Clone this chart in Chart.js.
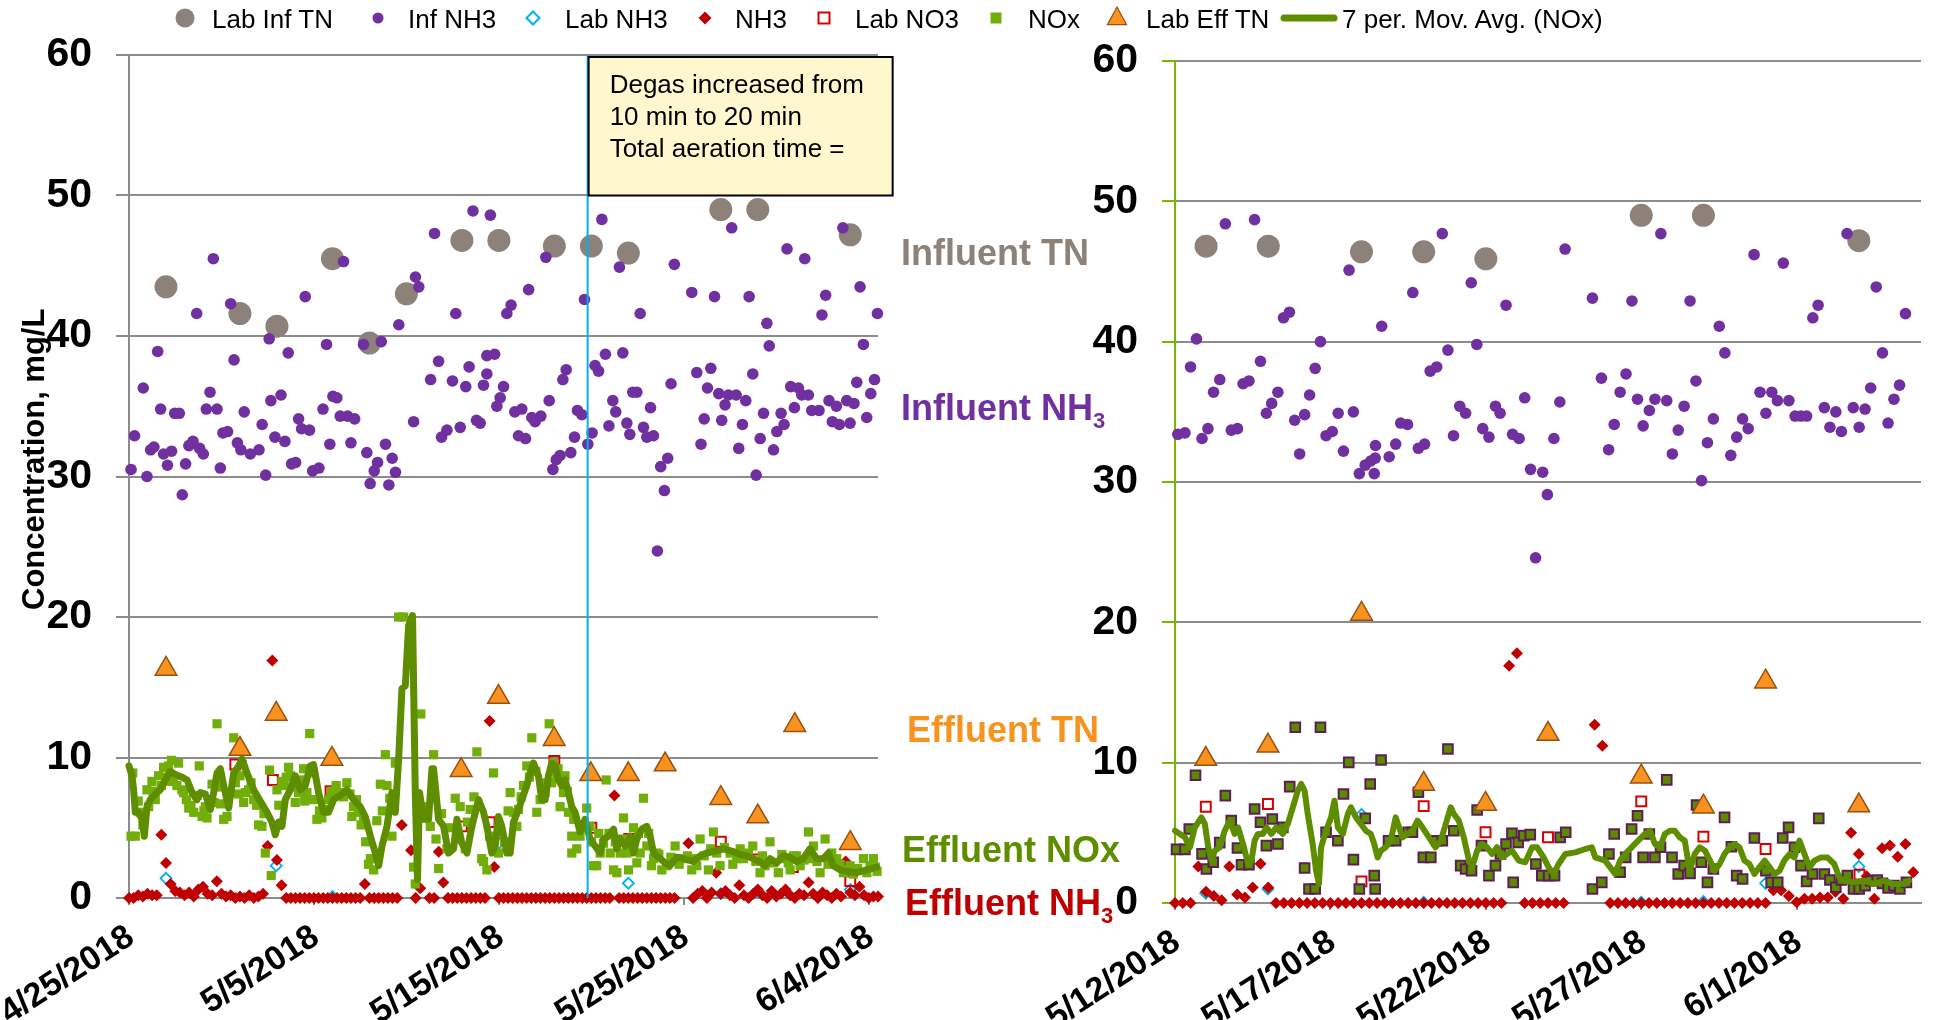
<!DOCTYPE html>
<html>
<head>
<meta charset="utf-8">
<script src="https://cdn.jsdelivr.net/npm/chart.js@4.4.1/dist/chart.umd.min.js"></script>
<style>
  html, body { margin: 0; padding: 0; background: #fff; }
  body { width: 1935px; height: 1020px; position: relative; overflow: hidden; font-family: "Liberation Sans", Arial, sans-serif; }
  canvas { position: absolute; top: 0; }
  #leftChart { left: 0; }
  #rightChart { left: 1040px; }
  #legend { position: absolute; left: 0; top: 0; width: 1935px; height: 36px; z-index: 3; }
  #legend span { position: absolute; top: 6px; font-size: 26px; line-height: 26px; color: #000; white-space: nowrap; }
  #legend svg { position: absolute; top: 0; }
  .tag { position: absolute; z-index: 3; font-weight: bold; font-size: 36px; line-height: 36px; white-space: nowrap; }
  .tag sub { font-size: 22px; vertical-align: -8px; line-height: 0; }
</style>
</head>
<body>
<canvas id="leftChart" width="905" height="1020"></canvas>
<canvas id="rightChart" width="895" height="1020"></canvas>
<div id="legend"></div>
<div class="tag" style="left:901px; top:235px; color:#8C8279;">Influent TN</div>
<div class="tag" style="left:901px; top:390px; color:#7030A0;">Influent NH<sub>3</sub></div>
<div class="tag" style="left:907px; top:712px; color:#F7931E;">Effluent TN</div>
<div class="tag" style="left:902px; top:832px; color:#5E8E00;">Effluent NOx</div>
<div class="tag" style="left:905px; top:885px; color:#C00000;">Effluent NH<sub>3</sub></div>

<script>
// x values are days: left chart counts from 4/25/2018, right chart from 5/12/2018
const LEFT_START = new Date(2018, 3, 25);
const RIGHT_START = new Date(2018, 4, 12);
const NH3_STEP = 0.25; // NH3 analyser readings, one every 6 h

const leftTickDays = [0, 10, 20, 30, 40];
const rightTickDays = [0, 5, 10, 15, 20];
const degasChangeDay = 24.8;
const noteLines = ['Degas increased from', '10 min to 20 min', 'Total aeration time ='];

// ----- left chart -----
const leftLabInfTn = [[2,43.5],[6,41.6],[8,40.7],[11,45.5],[13,39.5],[15,43.0],[18,46.8],[20,46.8],[23,46.4],[25,46.4],[27,45.9],[32,49.0],[34,49.0],[39,47.2]];

const leftInfNh3 = [
  [0.11,30.5],[0.3,32.9],[0.77,36.3],[0.97,30.0],[1.17,31.9],[1.35,32.1],[1.55,38.9],[1.71,34.8],[1.87,31.6],[2.08,30.8],
  [2.3,31.8],[2.47,34.5],[2.72,34.5],[2.88,28.7],[3.06,30.9],[3.24,32.2],[3.46,32.5],[3.66,41.6],[3.82,32.0],[4.02,31.6],
  [4.18,34.8],[4.38,36.0],[4.56,45.5],[4.76,34.8],[4.94,30.6],[5.08,33.1],[5.33,33.2],[5.5,42.3],[5.68,38.3],[5.86,32.4],
  [6.05,31.9],[6.23,34.6],[6.56,31.6],[7.03,31.9],[7.2,33.7],[7.39,30.1],[7.58,39.8],[7.67,35.4],[7.89,32.8],[8.22,35.8],
  [8.43,32.5],[8.61,38.8],[8.79,30.9],[9.01,31.0],[9.17,34.1],[9.33,33.4],[9.53,42.8],[9.76,33.3],[9.93,30.4],[10.27,30.6],
  [10.49,34.8],[10.68,39.4],[10.86,32.3],[11.03,35.7],[11.24,35.6],[11.42,34.3],[11.6,45.3],[11.82,34.3],[12.0,32.4],[12.2,34.1],
  [12.68,39.4],[12.86,31.7],[13.04,29.5],[13.26,30.4],[13.44,31.0],[13.64,39.6],[13.87,32.3],[14.05,29.4],[14.23,31.3],[14.41,30.3],
  [14.59,40.8],[15.39,33.9],[15.49,44.2],[15.67,43.5],[16.31,36.9],[16.52,47.3],[16.74,38.2],[16.9,32.8],[17.19,33.3],[17.49,36.8],
  [17.67,41.6],[17.91,33.5],[18.21,36.4],[18.39,37.8],[18.6,48.9],[18.79,34.0],[18.99,33.8],[19.17,36.5],[19.35,37.3],[19.35,38.6],
  [19.54,48.6],[19.77,38.7],[19.89,35.0],[20.07,35.6],[20.25,36.4],[20.43,41.6],[20.66,42.2],[20.86,34.6],[21.06,32.9],[21.24,34.8],
  [21.44,32.7],[21.61,43.3],[21.78,34.2],[21.96,33.9],[22.27,34.3],[22.54,45.6],[22.72,35.4],[22.92,30.5],[23.1,31.2],[23.31,31.5],
  [23.46,36.9],[23.64,37.6],[23.89,31.7],[24.09,32.8],[24.25,34.7],[24.49,34.4],[24.63,42.6],[24.81,32.3],[25.04,33.1],[25.2,37.9],
  [25.39,37.5],[25.57,48.3],[25.76,38.7],[25.95,33.6],[26.16,35.4],[26.32,34.6],[26.52,44.9],[26.7,38.8],[26.92,33.8],[27.08,33.0],
  [27.24,36.0],[27.46,36.0],[27.64,41.6],[27.82,33.5],[28.0,32.8],[28.2,34.9],[28.36,32.9],[28.57,24.7],[28.75,30.7],[28.95,29.0],
  [29.13,31.3],[29.31,36.6],[29.49,45.1],[30.43,43.1],[30.7,37.4],[30.93,32.3],[31.1,34.1],[31.28,36.3],[31.46,37.7],[31.66,42.8],
  [31.89,35.9],[32.05,34.0],[32.23,35.1],[32.41,35.8],[32.59,47.7],[32.83,35.8],[32.97,32.0],[33.17,33.7],[33.35,35.4],[33.53,42.8],
  [33.73,37.3],[33.91,30.1],[34.13,32.7],[34.31,34.5],[34.49,40.9],[34.62,39.3],[34.85,31.9],[35.03,33.2],[35.26,34.5],[35.42,33.7],
  [35.58,46.2],[35.78,36.4],[35.98,34.9],[36.2,36.3],[36.38,35.8],[36.54,45.5],[36.74,35.8],[36.92,34.7],[37.31,34.7],[37.47,41.5],
  [37.67,42.9],[37.85,35.4],[38.03,33.9],[38.25,35.0],[38.41,33.7],[38.6,47.7],[38.81,35.4],[38.99,33.8],[39.2,35.2],[39.35,36.7],
  [39.53,43.5],[39.71,39.4],[39.89,34.2],[40.11,35.9],[40.31,36.9],[40.47,41.6]
];

const leftLabNh3 = [[2,1.4],[7.96,2.3],[11,0.1],[20,3.9],[27,1.05],[32,0.3],[34,0.4],[39,0.6]];

const leftNh3 = [
  0, 0, 0.2, 0.1, 0.3, 0.2, 0.2, 4.5, 2.5, 1.0,
  0.5, 0.4, 0.2, 0.4, 0.1, 0.6, 0.8, 0.3, 0.2, 1.2,
  0.3, 0.1, 0.2, 0, 0.1, 0, 0.2, 0, 0.1, 0.3,
  3.7, 16.9, 2.7, 0.9, 0, 0, 0, 0, 0, 0,
  0, 0, 0, 0, 0, 0, 0, 0, 0, 0,
  0, 1.0, 0, 0, 0, 0, 0, 0, 0, 5.2,
  null, 3.4, 0, 0.7, null, 0, 0, 3.3, 1.1, 0,
  0, 0, 0, 0, 0, 0, 0, 0, 12.6, 2.2,
  0, 0, 0, 0, 0, 0, 0, 0, 0, 0,
  0, 0, 0, 0, 0, 0, 0, 0, 0, 0,
  0, 0, 0, 0, 0, 7.3, 0, 0, 0, 0,
  0, 0, 0, 0, 0, 0, 0, 0, 0, null,
  null, 3.9, 0, 0.3, 0.5, 0, 0.4, 1.8, 0.3, 0.5,
  0.2, 0, 0.9, 0.2, 0, 0.3, 0.6, 0.2, 0, 0.5,
  0.1, 0.3, 0.6, 0.2, 0, 0.3, 0.2, 1.1, 0.3, 0,
  0.4, 0.2, 0, 0.3, 0.1, 2.6, 0.4, 0.2, 0.8, 0.2,
  0, 0.1, 0.1
];

const leftLabNo3 = [[5.75,9.5],[7.78,8.4],[10.9,7.6],[18,5.1],[19.5,5.4],[23,9.75],[25,5.0],[27.05,4.2],[32,4.0],[34,2.75],[35.9,2.2],[39,1.2]];

const leftNox = [
  [0.11,4.4],[0.2,8.9],[0.34,4.4],[0.5,6.9],[0.61,6.1],[0.75,5.2],[0.97,7.7],[1.06,6.5],[1.24,8.3],[1.3,7.6],
  [1.42,7.0],[1.6,8.7],[1.75,8.0],[1.87,9.3],[2.0,8.6],[2.14,9.4],[2.23,8.3],[2.3,9.8],[2.41,8.4],[2.59,8.0],
  [2.68,9.6],[2.86,7.7],[2.95,7.5],[3.1,7.0],[3.23,6.4],[3.35,6.6],[3.5,6.1],[3.68,7.3],[3.8,9.4],[3.95,5.8],
  [4.05,6.2],[4.13,6.5],[4.22,5.7],[4.35,7.0],[4.49,8.1],[4.6,6.8],[4.76,12.4],[4.94,6.7],[5.0,7.9],[5.12,5.6],
  [5.3,5.8],[5.48,7.5],[5.66,11.4],[5.75,8.2],[5.93,7.4],[6.0,8.7],[6.11,9.5],[6.2,6.8],[6.29,7.5],[6.47,7.7],
  [6.6,8.2],[6.74,7.0],[6.9,6.6],[7.01,5.2],[7.19,5.1],[7.3,6.0],[7.37,3.2],[7.6,9.1],[7.69,1.6],[8.0,7.7],
  [8.1,6.6],[8.27,8.3],[8.36,8.0],[8.5,8.6],[8.63,9.3],[8.72,8.7],[8.85,7.9],[8.99,6.8],[9.17,7.5],[9.3,8.4],
  [9.44,9.2],[9.5,6.9],[9.62,7.5],[9.77,11.7],[9.9,8.9],[9.98,7.0],[10.16,5.6],[10.3,6.2],[10.43,5.7],[10.6,6.3],
  [10.79,7.0],[10.95,7.6],[11.06,7.5],[11.2,8.0],[11.33,7.4],[11.42,7.5],[11.6,7.2],[11.78,8.2],[11.95,7.4],[12.05,5.8],
  [12.14,6.5],[12.3,7.0],[12.41,6.1],[12.55,5.2],[12.68,5.6],[12.8,4.0],[12.95,2.4],[13.05,2.8],[13.23,2.0],[13.4,5.5],
  [13.59,8.1],[13.7,6.2],[13.86,10.2],[13.95,8.0],[14.1,7.1],[14.22,4.4],[14.4,9.6],[14.58,20.0],[14.85,20.0],[15.39,2.2],
  [15.48,1.0],[15.78,13.1],[16.1,6.5],[16.29,5.1],[16.47,10.2],[16.6,4.2],[16.74,2.1],[16.9,6.0],[17.19,3.5],[17.4,5.0],
  [17.64,7.1],[17.8,4.2],[17.91,6.5],[18.18,3.5],[18.3,5.4],[18.45,6.3],[18.65,7.2],[18.81,10.4],[19.07,2.8],[19.17,2.6],
  [19.35,2.0],[19.5,4.4],[19.71,8.9],[19.98,3.2],[20.3,4.0],[20.5,6.2],[20.61,7.5],[20.79,6.1],[20.97,5.1],[21.06,6.3],
  [21.2,7.2],[21.33,8.0],[21.51,9.4],[21.65,8.6],[21.78,11.4],[22.0,9.0],[22.05,6.1],[22.23,7.0],[22.4,8.2],[22.5,7.5],
  [22.72,12.4],[22.85,8.2],[22.95,9.6],[23.13,8.7],[23.2,9.2],[23.31,6.5],[23.49,7.5],[23.58,8.7],[23.7,7.6],[23.76,6.1],
  [23.94,4.4],[23.94,3.2],[24.05,5.6],[24.21,3.5],[24.39,4.4],[24.55,5.0],[24.75,6.4],[24.93,5.1],[25.0,4.0],[25.11,2.3],
  [25.29,2.3],[25.4,4.6],[25.48,3.2],[25.66,3.9],[25.8,8.4],[25.95,4.6],[26.02,3.2],[26.2,2.0],[26.3,4.0],[26.38,1.8],
  [26.56,3.2],[26.65,4.2],[26.74,5.7],[26.92,3.2],[27.01,2.0],[27.15,3.5],[27.28,5.0],[27.46,2.5],[27.55,4.6],[27.64,3.2],
  [27.82,7.1],[28.0,3.7],[28.1,4.6],[28.25,2.3],[28.36,2.8],[28.54,3.2],[28.65,3.1],[28.81,2.0],[29.08,2.3],[29.3,2.9],
  [29.53,3.7],[29.75,2.4],[29.98,2.8],[30.2,3.0],[30.43,2.0],[30.55,2.8],[30.7,2.3],[30.88,4.2],[31.1,3.0],[31.33,2.0],
  [31.45,3.5],[31.6,4.7],[31.78,3.2],[31.96,2.3],[32.2,3.6],[32.5,3.2],[32.65,2.4],[32.86,2.8],[33.05,3.5],[33.22,2.8],
  [33.49,3.2],[33.73,3.7],[33.9,2.6],[34.12,1.8],[34.25,3.0],[34.39,2.3],[34.66,4.0],[34.85,2.5],[35.11,1.8],[35.3,3.1],
  [35.47,2.8],[35.65,2.5],[35.75,2.0],[35.93,3.0],[36.1,3.0],[36.29,2.3],[36.5,2.7],[36.74,4.7],[36.9,2.8],[37.01,3.7],
  [37.2,2.6],[37.37,1.8],[37.64,4.2],[37.8,2.4],[38.0,3.2],[38.27,2.8],[38.45,2.4],[38.63,1.8],[38.8,2.0],[38.99,2.3],
  [39.17,1.7],[39.4,2.1],[39.71,2.8],[39.9,1.8],[40.07,2.3],[40.25,2.8],[40.35,2.2],[40.45,1.9]
];

const leftLabEffTn = [[2,16.3],[6,10.6],[7.96,13.1],[10.97,9.9],[17.96,9.1],[19.98,14.3],[22.99,11.3],[24.97,8.8],[27,8.8],[28.99,9.5],[32,7.1],[34,5.8],[36,12.3],[39,3.9]];

const leftMovAvg = [
  [0,9.4],[0.16,8.7],[0.25,7.7],[0.34,6.1],[0.52,6.1],[0.7,5.6],[0.83,4.4],[0.97,6.5],[1.15,7.0],[1.42,7.4],
  [1.69,7.7],[1.96,8.4],[2.23,9.0],[2.5,8.8],[2.86,8.6],[3.14,8.4],[3.41,7.5],[3.68,7.0],[3.86,7.5],[4.13,7.4],
  [4.4,6.3],[4.58,7.5],[4.76,8.9],[4.94,9.2],[5.12,8.0],[5.39,6.4],[5.66,8.9],[5.93,9.4],[6.11,9.9],[6.38,8.9],
  [6.74,7.7],[7.1,6.9],[7.46,6.1],[7.73,5.4],[7.91,4.5],[8.09,5.4],[8.27,5.1],[8.45,7.0],[8.72,7.7],[8.99,8.7],
  [9.26,7.7],[9.53,8.0],[9.8,9.4],[9.98,9.5],[10.25,7.5],[10.52,6.1],[10.79,6.1],[11.06,7.0],[11.42,7.3],[11.78,7.7],
  [12.14,7.0],[12.5,6.5],[12.77,5.8],[13.05,4.4],[13.32,3.2],[13.5,2.3],[13.68,3.7],[13.95,5.1],[14.22,7.5],[14.4,6.1],
  [14.58,9.9],[14.76,14.9],[14.94,15.1],[15.12,19.4],[15.33,20.1],[15.48,7.5],[15.6,1.3],[15.71,7.5],[15.93,5.6],[16.2,5.6],
  [16.38,9.2],[16.47,9.2],[16.74,5.6],[17.01,5.1],[17.28,3.2],[17.55,3.5],[17.73,5.6],[18.0,3.9],[18.27,3.2],[18.54,5.1],
  [18.9,7.0],[19.17,6.1],[19.35,5.1],[19.62,3.2],[19.8,3.7],[19.98,5.8],[20.16,5.1],[20.43,3.2],[20.61,3.2],[20.79,5.4],
  [21.06,6.3],[21.24,7.0],[21.51,8.0],[21.69,8.9],[21.87,9.6],[22.14,8.7],[22.32,7.0],[22.5,7.0],[22.68,8.7],[22.86,9.6],
  [23.04,9.4],[23.22,8.4],[23.4,8.0],[23.58,8.4],[23.76,7.5],[23.94,6.5],[24.12,6.1],[24.39,4.7],[24.66,5.6],[24.93,4.2],
  [25.2,3.7],[25.48,3.2],[25.66,4.2],[25.93,4.4],[26.2,4.9],[26.38,3.5],[26.56,4.2],[26.83,3.7],[27.1,4.4],[27.28,3.2],
  [27.46,4.2],[27.73,4.9],[28.0,5.1],[28.18,4.4],[28.36,3.2],[28.72,2.8],[28.99,2.5],[29.26,2.3],[29.62,2.9],[29.98,2.8],
  [30.52,2.6],[30.88,3.0],[31.24,3.2],[31.6,3.3],[32.14,3.5],[32.68,3.3],[33.04,3.1],[33.4,3.0],[33.76,2.8],[34.12,2.6],
  [34.39,2.3],[34.66,2.8],[35.02,2.5],[35.38,3.0],[35.74,2.9],[36.1,2.6],[36.46,2.8],[36.82,3.5],[37.18,2.8],[37.54,2.8],
  [37.82,3.2],[38.09,2.3],[38.45,2.0],[38.81,1.9],[39.35,1.8],[39.89,2.0],[40.43,2.2]
];

// ----- right chart -----
const rightLabInfTn = [[1,46.8],[3,46.8],[6,46.4],[8,46.4],[10,45.9],[15,49.0],[17,49.0],[22,47.2]];

const rightInfNh3 = [
  [0.09,33.4],[0.32,33.5],[0.5,38.2],[0.69,40.2],[0.87,33.1],[1.06,33.8],[1.24,36.4],[1.44,37.3],[1.62,48.4],[1.81,33.7],
  [2.01,33.8],[2.19,37.0],[2.38,37.2],[2.56,48.7],[2.75,38.6],[2.94,34.9],[3.11,35.6],[3.31,36.4],[3.49,41.7],[3.68,42.1],
  [3.85,34.4],[4.01,32.0],[4.17,34.8],[4.33,36.2],[4.51,38.1],[4.68,40.0],[4.86,33.3],[5.06,33.6],[5.25,34.9],[5.42,32.2],
  [5.6,45.1],[5.74,35.0],[5.93,30.6],[6.12,31.2],[6.3,31.5],[6.41,30.6],[6.44,31.7],[6.45,32.6],[6.65,41.1],[6.89,31.8],
  [7.1,32.7],[7.26,34.2],[7.48,34.1],[7.65,43.5],[7.83,32.4],[8.03,32.7],[8.21,37.9],[8.42,38.2],[8.6,47.7],[8.78,39.4],
  [8.96,33.3],[9.16,35.4],[9.35,34.9],[9.53,44.2],[9.71,39.8],[9.9,33.8],[10.1,33.2],[10.31,35.4],[10.46,34.9],[10.65,42.6],
  [10.86,33.4],[11.07,33.1],[11.25,36.0],[11.44,30.9],[11.6,24.6],[11.83,30.7],[11.98,29.1],[12.19,33.1],[12.38,35.7],[12.55,46.6],
  [13.43,43.1],[13.72,37.4],[13.95,32.3],[14.13,34.1],[14.32,36.4],[14.51,37.7],[14.7,42.9],[14.88,35.9],[15.06,34.0],[15.26,35.1],
  [15.44,35.9],[15.63,47.7],[15.82,35.8],[16.0,32.0],[16.19,33.7],[16.38,35.4],[16.57,42.9],[16.76,37.2],[16.94,30.1],[17.13,32.8],
  [17.32,34.5],[17.51,41.1],[17.69,39.2],[17.88,31.9],[18.07,33.2],[18.26,34.5],[18.44,33.8],[18.63,46.2],[18.82,36.4],[19.01,34.9],
  [19.2,36.4],[19.38,35.8],[19.57,45.6],[19.75,35.8],[19.95,34.7],[20.14,34.7],[20.32,34.7],[20.52,41.7],[20.69,42.6],[20.89,35.3],
  [21.07,33.9],[21.26,35.0],[21.44,33.6],[21.62,47.7],[21.82,35.3],[22.01,33.9],[22.2,35.2],[22.38,36.7],[22.56,43.9],[22.76,39.2],
  [22.94,34.2],[23.13,35.9],[23.31,36.9],[23.5,42.0]
];

const rightLabNh3 = [[0.99,0.7],[2.99,1.0],[6,6.3],[8,0.05],[15,0.05],[17,0.1],[19,1.4],[22,2.6]];

const rightNh3 = [
  0, 0, 0, 2.6, 0.8, 0.5, 0.2, 2.6, 0.6, 0.4,
  1.1, 2.8, 1.1, 0, 0, 0, 0, 0, 0, 0,
  0, 0, 0, 0, 0, 0, 0, 0, 0, 0,
  0, 0, 0, 0, 0, 0, 0, 0, 0, 0,
  0, 0, 0, 16.9, 17.8, 0, 0, 0, 0, 0,
  0, null, null, null, 12.7, 11.2, 0, 0, 0, 0,
  0, 0, 0, 0, 0, 0, 0, 0, 0, 0,
  0, 0, 0, 0, 0, 0, 0, 0.9, 0.9, 0.5,
  0.05, 0.3, 0.3, 0.4, 0.4, 0.8, 0.3, 5.0, 3.5, 1.9,
  0.3, 3.9, 4.1, 3.3, 4.2, 2.2, null
];

const rightLabNo3 = [[0.99,6.86],[2.99,7.05],[6,1.54],[8,6.9],[9.99,5.04],[12,4.68],[15,7.24],[17,4.73],[19,3.85],[22.02,2.02]];

const rightNox = [
  [0.05,3.82],[0.32,3.82],[0.46,5.27],[0.66,9.1],[0.87,3.5],[1.01,2.42],[1.23,2.9],[1.44,4.3],[1.62,7.65],[1.81,5.87],
  [2.01,3.92],[2.14,2.73],[2.38,2.73],[2.56,6.7],[2.75,5.75],[2.94,4.09],[3.13,5.99],[3.31,4.2],[3.47,5.39],[3.69,8.29],
  [3.87,12.52],[4.17,2.49],[4.31,1.0],[4.51,1.0],[4.68,12.52],[4.86,5.04],[5.24,4.44],[5.42,7.77],[5.59,10.02],[5.74,3.09],
  [5.93,1.0],[6.12,6.03],[6.28,8.48],[6.41,1.95],[6.44,1.0],[6.63,10.19],[6.87,4.44],[7.1,4.44],[7.5,5.04],[7.64,5.04],
  [7.83,7.89],[7.99,3.25],[8.23,3.25],[8.42,4.44],[8.6,4.44],[8.78,10.97],[8.97,5.15],[9.19,2.66],[9.35,2.42],[9.54,2.3],
  [9.72,6.63],[9.86,4.09],[10.1,1.95],[10.31,2.66],[10.47,3.49],[10.65,4.2],[10.84,4.96],[10.88,1.47],[11.04,4.32],[11.22,4.8],
  [11.43,4.87],[11.61,2.78],[11.8,1.95],[12.02,1.95],[12.21,1.95],[12.39,4.68],[12.57,5.04],[13.43,1.0],[13.73,1.47],[13.96,3.49],
  [14.13,4.92],[14.32,2.19],[14.5,3.25],[14.69,5.27],[14.88,6.22],[15.06,3.25],[15.26,4.92],[15.44,3.25],[15.62,3.97],[15.82,8.77],
  [15.99,3.25],[16.19,2.07],[16.38,2.66],[16.57,2.11],[16.78,6.98],[16.93,2.9],[17.13,1.47],[17.32,2.42],[17.68,6.1],[17.9,4.01],
  [18.07,1.95],[18.26,1.71],[18.64,4.63],[19.01,2.3],[19.18,1.47],[19.39,1.47],[19.55,4.63],[19.74,5.39],[19.93,3.97],[20.14,2.66],
  [20.32,1.54],[20.51,2.07],[20.71,6.03],[20.89,2.07],[21.07,1.64],[21.26,1.12],[21.44,1.64],[21.63,1.95],[21.83,1.0],[22.01,1.0],
  [22.2,1.24],[22.38,1.59],[22.59,1.64],[22.76,1.4],[22.94,1.07],[23.13,1.24],[23.32,1.0],[23.53,1.47]
];

const rightLabEffTn = [[0.99,10.26],[2.99,11.2],[6,20.6],[8,8.48],[9.99,7.06],[12,12.05],[15,9.0],[17,6.86],[19,15.77],[22,6.94]];

const rightMovAvg = [
  [0,5.15],[0.16,4.92],[0.32,4.68],[0.48,3.97],[0.64,5.39],[0.85,6.1],[0.96,5.63],[1.07,3.97],[1.18,3.02],[1.28,3.73],
  [1.44,3.97],[1.6,5.15],[1.76,5.87],[1.92,4.92],[2.03,5.39],[2.19,4.2],[2.35,2.78],[2.46,3.02],[2.56,4.44],[2.67,4.92],
  [2.83,4.92],[2.94,5.39],[3.1,4.92],[3.26,5.39],[3.37,5.15],[3.47,4.92],[3.63,5.63],[3.79,6.82],[3.95,8.0],[4.06,8.48],
  [4.17,8.0],[4.27,6.34],[4.43,4.2],[4.54,2.3],[4.63,1.35],[4.7,3.97],[4.86,5.15],[5.02,6.1],[5.13,7.29],[5.24,5.39],
  [5.4,4.92],[5.56,6.34],[5.66,6.82],[5.82,6.1],[5.98,5.63],[6.14,5.15],[6.3,4.92],[6.41,4.2],[6.52,3.25],[6.62,3.73],
  [6.78,3.97],[6.94,4.44],[7.1,6.1],[7.21,5.39],[7.32,4.68],[7.48,4.92],[7.64,5.15],[7.8,5.87],[7.96,5.39],[8.17,4.68],
  [8.38,3.97],[8.55,4.44],[8.71,5.63],[8.87,6.82],[8.97,6.34],[9.13,5.87],[9.29,4.68],[9.46,3.02],[9.56,2.54],[9.72,3.73],
  [9.88,4.2],[10.04,3.97],[10.2,3.49],[10.36,3.97],[10.52,3.25],[10.68,3.49],[10.84,3.73],[11.06,3.02],[11.27,2.9],[11.49,3.97],
  [11.65,3.97],[11.86,3.25],[12.02,2.54],[12.18,2.07],[12.34,2.78],[12.56,3.49],[12.88,3.61],[13.2,3.85],[13.41,3.97],[13.52,3.25],
  [13.84,3.02],[14.16,2.07],[14.32,3.02],[14.48,3.49],[14.69,3.97],[14.9,4.44],[15.12,4.92],[15.28,5.15],[15.44,4.2],[15.6,3.97],
  [15.76,4.92],[15.92,5.15],[16.08,5.15],[16.24,4.68],[16.4,4.44],[16.56,2.3],[16.72,3.49],[16.88,3.97],[17.05,3.73],[17.21,3.02],
  [17.36,2.3],[17.52,2.78],[17.68,3.49],[17.84,3.97],[18.0,4.2],[18.16,3.97],[18.32,3.02],[18.48,2.78],[18.64,2.07],[18.8,2.54],
  [18.97,3.02],[19.13,2.54],[19.29,2.07],[19.45,2.3],[19.6,3.02],[19.77,3.49],[19.93,3.25],[20.09,4.44],[20.25,3.49],[20.41,2.54],
  [20.57,3.02],[20.78,3.25],[20.99,3.25],[21.21,2.78],[21.37,1.83],[21.52,1.59],[21.84,1.47],[22.17,1.59],[22.48,1.35],[22.8,1.59],
  [23.13,1.35],[23.45,1.35],[23.61,1.59]
];

const FONT = '"Liberation Sans", Arial, Helvetica, sans-serif';
const GRID = '#8C8C8C';

const pts = arr => arr.map(([x, y]) => ({ x, y }));
const steps = arr => arr.map((y, i) => ({ x: i * NH3_STEP, y }));

function dayLabel(start, d) {
  const dt = new Date(start.getFullYear(), start.getMonth(), start.getDate() + d);
  return `${dt.getMonth() + 1}/${dt.getDate()}/${dt.getFullYear()}`;
}

function buildSets(s, noxStyle, avgWidth) {
  return [
    { label: 'Lab Inf TN', data: pts(s.labInfTn), pointStyle: 'circle', pointRadius: 11.5,
      pointBackgroundColor: '#8C8279', pointBorderWidth: 0, order: 9 },
    { label: 'Inf NH3', data: pts(s.infNh3), pointStyle: 'circle', pointRadius: 5.8,
      pointBackgroundColor: '#7030A0', pointBorderWidth: 0, order: 8 },
    { label: 'Lab NH3', data: pts(s.labNh3), pointStyle: 'rectRot', pointRadius: 5.5,
      pointBackgroundColor: 'rgba(255,255,255,0)', pointBorderColor: '#00B0F0', pointBorderWidth: 1.8, order: 7 },
    { label: 'NH3', data: steps(s.nh3), pointStyle: 'rectRot', pointRadius: 6,
      pointBackgroundColor: '#C00000', pointBorderWidth: 0, order: 6 },
    { label: 'Lab NO3', data: pts(s.labNo3), pointStyle: 'rect', pointRadius: 7,
      pointBackgroundColor: 'rgba(255,255,255,0)', pointBorderColor: '#D90000', pointBorderWidth: 2, order: 5 },
    Object.assign({ label: 'NOx', data: pts(s.nox), pointStyle: 'rect', order: 4 }, noxStyle),
    { label: 'Lab Eff TN', data: pts(s.labEffTn), pointStyle: 'triangle', pointRadius: 12.5,
      pointBackgroundColor: '#F7931E', pointBorderColor: '#9A5010', pointBorderWidth: 1.5, order: 3 },
    { type: 'line', label: '7 per. Mov. Avg. (NOx)', data: pts(s.movAvg), borderColor: '#5E8E00', borderWidth: avgWidth,
      pointRadius: 0, showLine: true, fill: false, tension: 0, borderJoinStyle: 'round', borderCapStyle: 'round', order: 2 }
  ].map(d => Object.assign({ clip: false }, d));
}

const degasNote = {
  id: 'degasNote',
  afterDatasetsDraw(chart) {
    const { ctx, scales: { x, y } } = chart;
    const left = x.getPixelForValue(degasChangeDay) + 1;
    const top = y.getPixelForValue(60) + 2;
    const bottom = y.getPixelForValue(50);
    ctx.save();
    ctx.fillStyle = '#FFF8CE';
    ctx.fillRect(left, top, 304, bottom - top);
    ctx.strokeStyle = '#000';
    ctx.lineWidth = 2;
    ctx.strokeRect(left, top, 304, bottom - top);
    ctx.fillStyle = '#000';
    ctx.font = '26px ' + FONT;
    ctx.textBaseline = 'alphabetic';
    noteLines.forEach((t, i) => ctx.fillText(t, left + 21, top + 36 + i * 32));
    ctx.restore();
  }
};

function makeChart(id, cfg) {
  return new Chart(document.getElementById(id), {
    type: 'scatter',
    data: { datasets: cfg.datasets },
    options: {
      responsive: false,
      animation: false,
      devicePixelRatio: 1,
      layout: { padding: cfg.padding },
      plugins: { legend: { display: false }, tooltip: { enabled: false } },
      scales: {
        x: {
          type: 'linear',
          min: cfg.xMin,
          max: cfg.xMax,
          afterBuildTicks: s => { s.ticks = cfg.tickDays.map(v => ({ value: v })); },
          afterFit: s => { s.height = cfg.xHeight; s.paddingLeft = 0; s.paddingRight = 0; },
          grid: { drawOnChartArea: false, drawTicks: true, tickLength: 7, color: GRID, lineWidth: 2 },
          border: { display: true, color: GRID, width: 2 },
          ticks: {
            autoSkip: false, minRotation: 33, maxRotation: 33, padding: 12, labelOffset: 2,
            color: '#000', font: { family: FONT, size: 34, weight: 'bold' },
            callback: v => dayLabel(cfg.start, v)
          }
        },
        y: {
          min: 0,
          max: 60,
          afterFit: s => { s.width = cfg.yWidth; s.paddingTop = 0; s.paddingBottom = 0; },
          grid: { color: GRID, lineWidth: 2, tickLength: 13, tickColor: cfg.axisColor },
          border: { display: true, color: cfg.axisColor, width: 2 },
          ticks: { stepSize: 10, padding: cfg.yPad, color: '#000', font: { family: FONT, size: 41, weight: 'bold' } },
          title: cfg.yTitle || { display: false }
        }
      }
    },
    plugins: cfg.plugins || []
  });
}

const leftSets = buildSets({
  labInfTn: leftLabInfTn, infNh3: leftInfNh3, labNh3: leftLabNh3, nh3: leftNh3,
  labNo3: leftLabNo3, nox: leftNox, labEffTn: leftLabEffTn, movAvg: leftMovAvg
}, { pointRadius: 6.5, pointBackgroundColor: '#72AE0A', pointBorderWidth: 0 }, 7);
leftSets.push({
  type: 'line', label: 'degas change', data: [{ x: degasChangeDay, y: 0 }, { x: degasChangeDay, y: 60 }],
  borderColor: '#00B0F0', borderWidth: 2, pointRadius: 0, order: 1, clip: false
});

makeChart('leftChart', {
  datasets: leftSets,
  start: LEFT_START,
  xMin: 0, xMax: 40.5,
  tickDays: leftTickDays,
  padding: { left: 0, right: 27, top: 55, bottom: 0 },
  yWidth: 129, xHeight: 122, yPad: 24,
  axisColor: GRID,
  yTitle: {
    display: true, text: '    Concentration, mg/L', color: '#000',
    font: { family: FONT, size: 31, weight: 'bold' }, padding: { top: 17, bottom: 0 }
  },
  plugins: [degasNote]
});

makeChart('rightChart', {
  datasets: buildSets({
    labInfTn: rightLabInfTn, infNh3: rightInfNh3, labNh3: rightLabNh3, nh3: rightNh3,
    labNo3: rightLabNo3, nox: rightNox, labEffTn: rightLabEffTn, movAvg: rightMovAvg
  }, { pointRadius: 6.8, pointBackgroundColor: '#5B8A00', pointBorderColor: '#5C1E55', pointBorderWidth: 2 }, 6),
  start: RIGHT_START,
  xMin: 0, xMax: 24,
  tickDays: rightTickDays,
  padding: { left: 0, right: 11, top: 61, bottom: 0 },
  yWidth: 135, xHeight: 117, yPad: 24,
  axisColor: '#7AB800'
});

// ----- shared legend across the top -----
const legendItems = [
  { label: 'Lab Inf TN', mk: 'circle', color: '#8C8279', size: 9.5, cx: 185, tx: 212 },
  { label: 'Inf NH3', mk: 'circle', color: '#7030A0', size: 5.5, cx: 378, tx: 408 },
  { label: 'Lab NH3', mk: 'diamondOpen', color: '#00B0F0', size: 6.5, cx: 533, tx: 565 },
  { label: 'NH3', mk: 'diamond', color: '#C00000', size: 6.5, cx: 705, tx: 735 },
  { label: 'Lab NO3', mk: 'squareOpen', color: '#D90000', size: 5.5, cx: 824, tx: 855 },
  { label: 'NOx', mk: 'square', color: '#72AE0A', size: 5.5, cx: 996, tx: 1028 },
  { label: 'Lab Eff TN', mk: 'triangle', color: '#F7931E', size: 11, cx: 1117, tx: 1146 },
  { label: '7 per. Mov. Avg. (NOx)', mk: 'line', color: '#5E8E00', size: 25, cx: 1309, tx: 1342 }
];

function markerShape(it) {
  const c = 30, m = 18, r = it.size;
  switch (it.mk) {
    case 'circle': return `<circle cx="${c}" cy="${m}" r="${r}" fill="${it.color}"/>`;
    case 'diamond': return `<polygon points="${c},${m - r} ${c + r},${m} ${c},${m + r} ${c - r},${m}" fill="${it.color}"/>`;
    case 'diamondOpen': return `<polygon points="${c},${m - r} ${c + r},${m} ${c},${m + r} ${c - r},${m}" fill="none" stroke="${it.color}" stroke-width="2"/>`;
    case 'square': return `<rect x="${c - r}" y="${m - r}" width="${2 * r}" height="${2 * r}" fill="${it.color}"/>`;
    case 'squareOpen': return `<rect x="${c - r}" y="${m - r}" width="${2 * r}" height="${2 * r}" fill="none" stroke="${it.color}" stroke-width="2"/>`;
    case 'triangle': return `<polygon points="${c},${m - r} ${c + r * 0.87},${m + r * 0.6} ${c - r * 0.87},${m + r * 0.6}" fill="${it.color}" stroke="#9A5010" stroke-width="1.2"/>`;
    case 'line': return `<line x1="${c - r}" y1="${m}" x2="${c + r}" y2="${m}" stroke="${it.color}" stroke-width="7" stroke-linecap="round"/>`;
  }
  return '';
}

const legend = document.getElementById('legend');
legendItems.forEach(it => {
  legend.insertAdjacentHTML('beforeend',
    `<svg width="60" height="36" style="left:${it.cx - 30}px">${markerShape(it)}</svg>` +
    `<span style="left:${it.tx}px">${it.label}</span>`);
});
</script>
</body>
</html>
